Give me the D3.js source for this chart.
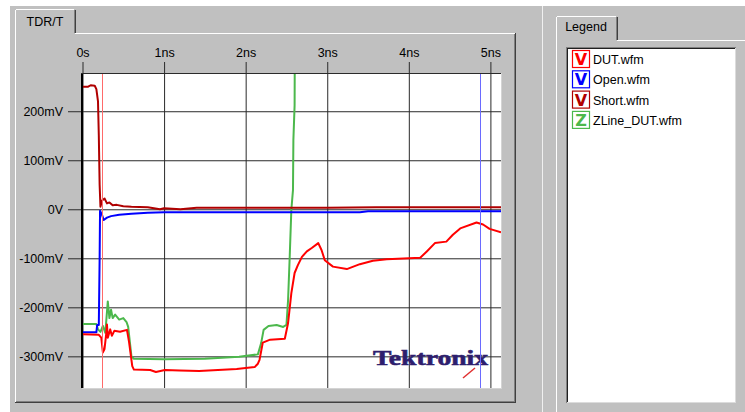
<!DOCTYPE html>
<html><head><meta charset="utf-8">
<script src="https://cdn.jsdelivr.net/npm/d3@7"></script>
<style>
body{margin:0;background:#fff}
svg{display:block}
</style>
</head><body>
<svg id="c" width="745" height="412"></svg>
<script>
// ---- data ----
const xTicks = [0, 1, 2, 3, 4, 5];
const xTickLabels = ["0s", "1ns", "2ns", "3ns", "4ns", "5ns"];
const yTicks = [200, 100, 0, -100, -200, -300];
const yTickLabels = ["200mV", "100mV", "0V", "-100mV", "-200mV", "-300mV"];
const seriesNames = ["DUT.wfm", "Open.wfm", "Short.wfm", "ZLine_DUT.wfm"];
const seriesIcons = ["V", "V", "V", "Z"];
const seriesColors = ["#ff0000", "#0000ff", "#b00000", "#4cb84c"];

const dutTime = [0, 0.2, 0.23, 0.25, 0.27, 0.29, 0.30, 0.31, 0.34, 0.36, 0.39, 0.46, 0.545, 0.57, 0.61, 0.63, 0.83, 0.90, 1.01, 1.19, 1.43, 1.89, 2.11, 2.15, 2.17, 2.21, 2.30, 2.48, 2.52, 2.56, 2.60, 2.64, 2.69, 2.75, 2.81, 2.89, 2.93, 2.97, 3.07, 3.24, 3.40, 3.56, 3.73, 4.14, 4.22, 4.32, 4.46, 4.54, 4.63, 4.83, 4.91, 4.99, 5.13];
const dutMv = [-255, -256, -262, -292, -285, -255, -235, -262, -245, -258, -248, -250, -246, -270, -320, -327, -328, -332, -328, -329, -330, -326, -322, -315, -307, -272, -266, -264, -232, -171, -130, -114, -97, -86, -79, -69, -83, -104, -117, -122, -112, -105, -102, -99, -86, -69, -66, -52, -39, -27, -31, -40, -47];

const openTime = [0, 0.17, 0.18, 0.20, 0.21, 0.215, 0.24, 0.26, 0.30, 0.35, 0.45, 0.6, 0.8, 1.0, 1.5, 2.0, 2.5, 3.4, 3.5, 4.0, 5.13];
const openMv = [-251, -251, -236, -236, -100, -3, -12, -22, -17, -14, -11, -9, -7, -6, -6, -6, -6, -6, -4, -4, -4];

const shortTime = [0, 0.07, 0.1, 0.15, 0.17, 0.19, 0.2, 0.21, 0.22, 0.24, 0.27, 0.30, 0.33, 0.37, 0.42, 0.5, 0.6, 0.8, 0.95, 1.0, 1.2, 1.4, 2.0, 2.5, 3.0, 3.6, 4.0, 5.13];
const shortMv = [250, 250, 253, 252, 245, 220, 150, 50, 5, 18, 22, 12, 14, 8, 9, 6, 5, 4, 0, 2, 0, 3, 3, 3, 3, 4, 4, 4];

const zlineTime = [0, 0.17, 0.19, 0.22, 0.25, 0.28, 0.31, 0.33, 0.35, 0.37, 0.40, 0.45, 0.50, 0.54, 0.56, 0.60, 0.63, 1.0, 1.5, 1.92, 2.15, 2.19, 2.22, 2.28, 2.38, 2.46, 2.50, 2.52, 2.54, 2.56, 2.58, 2.585, 2.60, 2.605];
const zlineMv = [-234, -234, -245, -250, -238, -252, -188, -222, -205, -222, -215, -225, -222, -230, -240, -300, -305, -306, -305, -301, -296, -273, -246, -238, -236, -240, -236, -185, -97, -1, 39, 141, 212, 450];

const cursorTimes = [0.235, 4.87];
const cursorColors = ["#ff6a6a", "#6a6aff"];

// ---- layout ----
const UI = "'Liberation Sans',Arial,sans-serif";
const svg = d3.select("#c");
const P = {left: 82, right: 501, top: 73, bottom: 388};
const x = d3.scaleLinear().domain([0, 5.13]).range([82.5, 501]);
const y = d3.scaleLinear().domain([-364.6, 278]).range([388, 73]);

svg.append("rect").attr("width", 745).attr("height", 412).attr("fill", "#fff");
svg.append("rect").attr("x", 10).attr("y", 6).attr("width", 735).attr("height", 406).attr("fill", "#c0c0c0");

function ln(x1, y1, x2, y2, c, w) {
  svg.append("line").attr("x1", x1).attr("y1", y1).attr("x2", x2).attr("y2", y2)
    .attr("stroke", c).attr("stroke-width", w || 1);
}
function txt(xx, yy, s, size, anchor) {
  return svg.append("text").attr("x", xx).attr("y", yy).attr("text-anchor", anchor || "start")
    .style("font-family", UI).style("font-size", size + "px").attr("fill", "#000").text(s);
}
ln(542.5, 6, 542.5, 412, "#f0f0f0");

// chart tab control
ln(15.5, 10, 15.5, 403, "#ffffff");
ln(16, 9.5, 74, 9.5, "#ffffff");
ln(74.5, 10, 74.5, 33, "#808080");
ln(75.5, 10, 75.5, 33, "#404040");
ln(75, 33.5, 515, 33.5, "#ffffff");
ln(514.5, 34, 514.5, 402, "#808080");
ln(515.5, 33, 515.5, 403, "#404040");
ln(16, 401.5, 515, 401.5, "#808080");
ln(15, 402.5, 516, 402.5, "#404040");
txt(45, 26, "TDR/T", 12.5, "middle");

// legend tab control
ln(556.5, 17, 556.5, 412, "#ffffff");
ln(557, 16.5, 616, 16.5, "#ffffff");
ln(616.5, 17, 616.5, 40, "#808080");
ln(617.5, 17, 617.5, 40, "#404040");
ln(617, 40.5, 745, 40.5, "#ffffff");
txt(586, 31, "Legend", 12.5, "middle");

// legend list box
svg.append("rect").attr("x", 567).attr("y", 48).attr("width", 168).attr("height", 354).attr("fill", "#fff");
ln(566.5, 47, 566.5, 403, "#808080");
ln(566, 47.5, 736, 47.5, "#808080");
ln(567.5, 48, 567.5, 402, "#202020");
ln(567, 48.5, 735, 48.5, "#202020");
ln(735.5, 48, 735.5, 403, "#dcdcdc");
ln(567, 402.5, 736, 402.5, "#dcdcdc");

seriesNames.forEach((n, i) => {
  const yy = 50 + i * 20.3;
  svg.append("rect").attr("x", 572.5).attr("y", yy + 0.5).attr("width", 17).attr("height", 17)
    .attr("fill", "#fff").attr("stroke", seriesColors[i]).attr("stroke-width", 1.2);
  svg.append("text").attr("x", 581).attr("y", yy + 15).attr("text-anchor", "middle")
    .style("font-family", "'DejaVu Sans',sans-serif").style("font-weight", "bold").style("font-size", "16px")
    .attr("fill", seriesColors[i]).text(seriesIcons[i]);
  txt(593, yy + 14, n, 12.5);
});

// plot area
svg.append("rect").attr("x", P.left).attr("y", P.top).attr("width", P.right - P.left).attr("height", P.bottom - P.top).attr("fill", "#fff");
ln(501.5, 73, 501.5, 389, "#d4d4d4");
ln(82, 388.5, 502, 388.5, "#d4d4d4");

const yAxis = d3.axisLeft(y).tickValues(yTicks).tickFormat((d, i) => yTickLabels[i])
  .tickSizeInner(501 - 68).tickSizeOuter(0).tickPadding(5);
const gy = svg.append("g").attr("transform", "translate(501,0)").call(yAxis);
gy.select(".domain").remove();
gy.selectAll("line").attr("stroke", "#2a2a2a");
gy.selectAll("text").style("font-size", "12.5px").attr("fill", "#000").style("font-family", UI);

const xAxis = d3.axisTop(x).tickValues(xTicks).tickFormat((d, i) => xTickLabels[i])
  .tickSizeInner(388 - 62).tickSizeOuter(0).tickPadding(5);
const gx = svg.append("g").attr("transform", "translate(0,388)").call(xAxis);
gx.select(".domain").remove();
gx.selectAll("line").attr("stroke", "#2a2a2a");
gx.selectAll("text").style("font-size", "12.5px").attr("fill", "#000").style("font-family", UI);

ln(82, 73, 82, 388, "#000", 2);
ln(81, 73.5, 501, 73.5, "#2a2a2a", 1);

// logo
svg.append("text").attr("x", 373).attr("y", 365)
  .style("font-family", "'Liberation Serif','DejaVu Serif',serif")
  .style("font-weight", "bold").style("font-size", "22px").attr("fill", "#2e1e6e")
  .attr("stroke", "#2e1e6e").attr("stroke-width", 0.6)
  .attr("textLength", 115).attr("lengthAdjust", "spacingAndGlyphs").text("Tektronix");
ln(463, 378, 475, 368, "#e03030", 1.5);

// traces
svg.append("clipPath").attr("id", "clip").append("rect")
  .attr("x", 83).attr("y", 74).attr("width", 418).attr("height", 314);
const tr = svg.append("g").attr("clip-path", "url(#clip)");
const line = d3.line().x(d => x(d[0])).y(d => y(d[1]));
const series = [
  {t: zlineTime, v: zlineMv, c: seriesColors[3]},
  {t: openTime, v: openMv, c: seriesColors[1]},
  {t: shortTime, v: shortMv, c: seriesColors[2]},
  {t: dutTime, v: dutMv, c: seriesColors[0]}
];
series.forEach(s => {
  tr.append("path").datum(s.t.map((t, i) => [t, s.v[i]])).attr("d", line)
    .attr("fill", "none").attr("stroke", s.c).attr("stroke-width", 2).attr("stroke-linejoin", "round");
});
cursorTimes.forEach((t, i) => {
  tr.append("line").attr("x1", Math.round(x(t)) + 0.5).attr("x2", Math.round(x(t)) + 0.5)
    .attr("y1", 74).attr("y2", 388).attr("stroke", cursorColors[i]).attr("stroke-width", 1);
});
</script>
</body></html>
